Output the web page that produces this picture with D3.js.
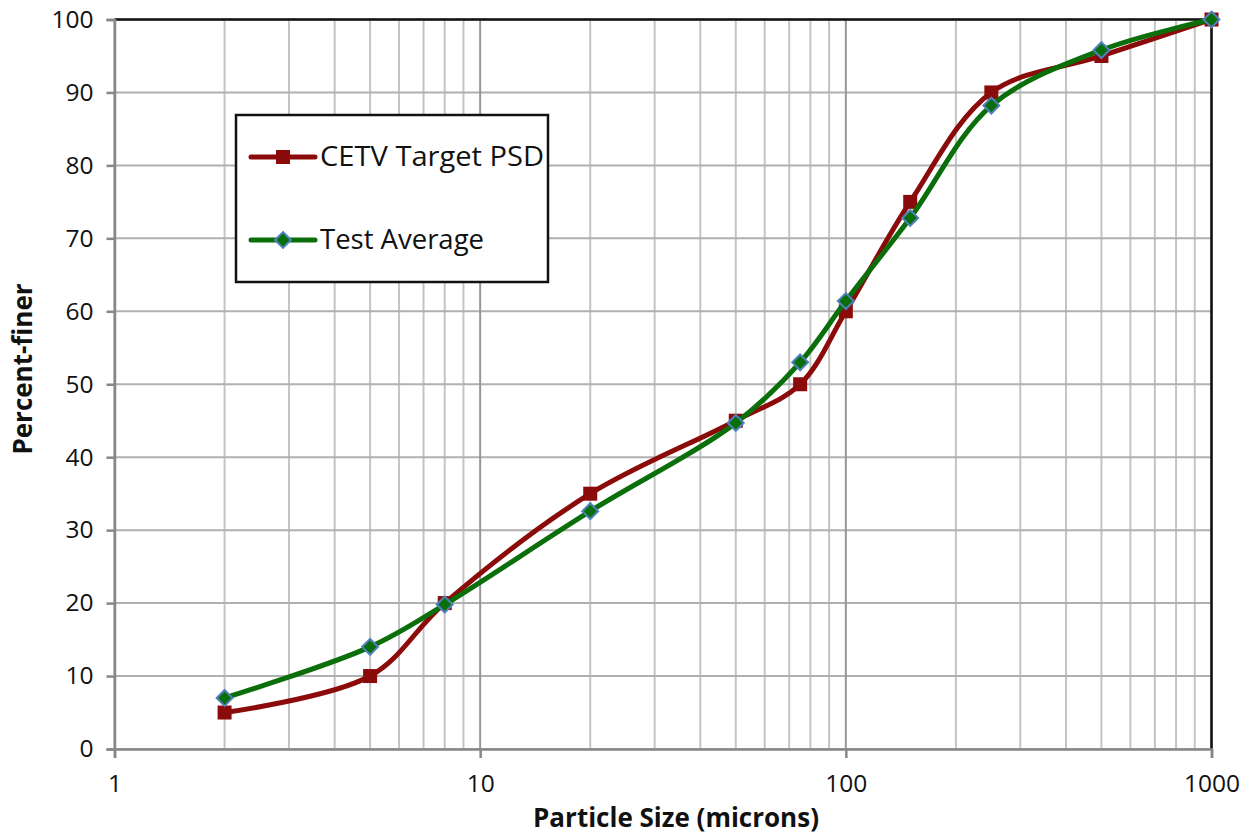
<!DOCTYPE html>
<html><head><meta charset="utf-8">
<script src="https://cdn.jsdelivr.net/npm/d3@7/dist/d3.min.js"></script>
<style>body{margin:0;background:#fff;} svg{display:block;}</style>
</head><body>
<svg id="chart" width="1250" height="834"></svg>
<script>
const sizes = [2, 5, 8, 20, 50, 75, 100, 150, 250, 500, 1000];
const targetPSD = [5, 10, 20, 35, 45, 50, 60, 75, 90, 95, 100];
const testAverage = [7, 14, 19.8, 32.6, 44.7, 53, 61.4, 72.8, 88.2, 95.8, 100];
const seriesNames = ["CETV Target PSD", "Test Average"];
const xTickLabels = [1, 10, 100, 1000];
const yTickLabels = [0, 10, 20, 30, 40, 50, 60, 70, 80, 90, 100];

const svg = d3.select("#chart");
const font = "'Open Sans', 'Noto Sans', sans-serif";
const L = 114.5, R = 1211.5, T = 19.5, B = 749;
const x = d3.scaleLog().domain([1, 1000]).range([L, R]);
const y = d3.scaleLinear().domain([0, 100]).range([B, T]);

// minor vertical gridlines
const minor = [];
for (let d = 1; d < 1000; d *= 10) for (let k = 2; k <= 9; k++) minor.push(d * k);
svg.append("g").selectAll("line").data(minor).join("line")
  .attr("x1", d => x(d)).attr("x2", d => x(d)).attr("y1", T).attr("y2", B)
  .attr("stroke", "#c4c4c4").attr("stroke-width", 2);
// horizontal gridlines
svg.append("g").selectAll("line").data(yTickLabels).join("line")
  .attr("x1", L).attr("x2", R).attr("y1", d => y(d)).attr("y2", d => y(d))
  .attr("stroke", "#b0b0b0").attr("stroke-width", 2);
// major vertical
svg.append("g").selectAll("line").data(xTickLabels).join("line")
  .attr("x1", d => x(d)).attr("x2", d => x(d)).attr("y1", T).attr("y2", B)
  .attr("stroke", "#969696").attr("stroke-width", 2);
// border top/right
svg.append("path").attr("d", `M${L},${T}H${R}V${B}`).attr("fill", "none")
  .attr("stroke", "#111").attr("stroke-width", 2.5);

// axes
const yAxis = d3.axisLeft(y).tickValues(yTickLabels).tickSize(8).tickPadding(13);
const gy = svg.append("g").attr("transform", `translate(${L},0)`).call(yAxis);
const xAxis = d3.axisBottom(x).tickValues(xTickLabels).tickFormat(d3.format("d")).tickSize(9).tickPadding(17);
const gx = svg.append("g").attr("transform", `translate(0,${B})`).call(xAxis);
[gx, gy].forEach(g => {
  g.select(".domain").attr("stroke", "#878787").attr("stroke-width", 2.5);
  g.selectAll(".tick line").attr("stroke", "#878787").attr("stroke-width", 2.5);
  g.selectAll(".tick text").attr("font-family", font).attr("font-size", 24.5).attr("fill", "#111");
});

// titles
svg.append("text").attr("x", 676).attr("y", 827).attr("text-anchor", "middle")
  .attr("font-family", font).attr("font-size", 26).attr("font-weight", "bold").attr("fill", "#111")
  .text("Particle Size (microns)");
svg.append("text").attr("transform", "translate(32,369) rotate(-90)").attr("text-anchor", "middle")
  .attr("font-family", font).attr("font-size", 26).attr("font-weight", "bold").attr("fill", "#111")
  .text("Percent-finer");

const line = d3.line().x(d => x(d[0])).y(d => y(d[1])).curve(d3.curveCatmullRom.alpha(0.5));
const tData = sizes.map((s, i) => [s, targetPSD[i]]);
const aData = sizes.map((s, i) => [s, testAverage[i]]);
const red = "#8B0A0A", green = "#0A6E0A", blue = "#4F81BD";

svg.append("path").attr("d", line(tData)).attr("fill", "none").attr("stroke", red).attr("stroke-width", 5);
svg.append("g").selectAll("rect").data(tData).join("rect")
  .attr("x", d => x(d[0]) - 7).attr("y", d => y(d[1]) - 7).attr("width", 14).attr("height", 14)
  .attr("fill", red);
svg.append("path").attr("d", line(aData)).attr("fill", "none").attr("stroke", green).attr("stroke-width", 5);
const diamond = d3.symbol().type(d3.symbolDiamond2).size(160);
svg.append("g").selectAll("path").data(aData).join("path")
  .attr("d", diamond).attr("transform", d => `translate(${x(d[0])},${y(d[1])})`)
  .attr("fill", green).attr("stroke", blue).attr("stroke-width", 2);

// legend
const lg = svg.append("g");
lg.append("rect").attr("x", 236).attr("y", 115).attr("width", 312).attr("height", 167)
  .attr("fill", "#fff").attr("stroke", "#111").attr("stroke-width", 2.5);
const entries = [{n: seriesNames[0], c: red, y: 157, m: "sq", w: 224}, {n: seriesNames[1], c: green, y: 240, m: "di", w: 164}];
entries.forEach(e => {
  lg.append("line").attr("x1", 251).attr("x2", 315).attr("y1", e.y).attr("y2", e.y)
    .attr("stroke", e.c).attr("stroke-width", 5).attr("stroke-linecap", "round");
  if (e.m === "sq") lg.append("rect").attr("x", 276).attr("y", e.y - 7).attr("width", 14).attr("height", 14).attr("fill", red);
  else lg.append("path").attr("d", diamond).attr("transform", `translate(283,${e.y})`)
    .attr("fill", green).attr("stroke", blue).attr("stroke-width", 2);
  lg.append("text").attr("x", 320).attr("y", e.y + 9).attr("font-family", font).attr("font-size", 28)
    .attr("textLength", e.w).attr("lengthAdjust", "spacingAndGlyphs")
    .attr("fill", "#111").text(e.n);
});
</script>
</body></html>
